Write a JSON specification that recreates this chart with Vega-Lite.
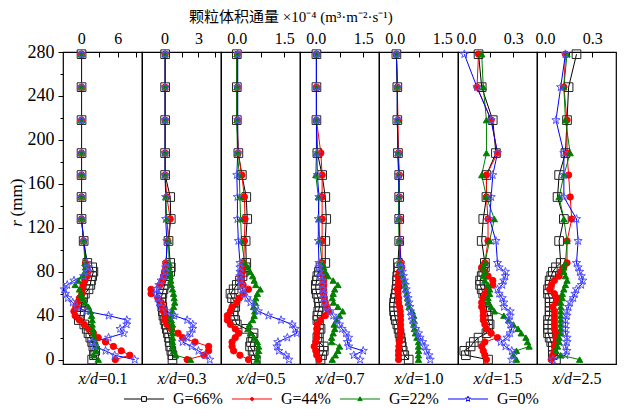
{
"$schema": "https://vega.github.io/schema/vega-lite/v6.json",
"padding": {"left": 6, "right": 4, "top": 10, "bottom": 0},
"title": {"text": "颗粒体积通量 ×10⁻⁴ (m³·m⁻²·s⁻¹)", "font": "Liberation Serif, Noto Sans CJK SC", "fontSize": 15, "fontWeight": "normal", "color": "black", "anchor": "start", "frame": "group", "dx": 126},
"data": {"values": [
{"p":1,"r":278,"a":0.05,"b":0.05,"c":0.05,"d":0.05},
{"p":1,"r":248,"a":0.05,"b":0.05,"c":0.05,"d":0.05},
{"p":1,"r":218,"a":0.05,"b":0.05,"c":0.05,"d":0.05},
{"p":1,"r":188,"a":0.05,"b":0.05,"c":0.05,"d":0.05},
{"p":1,"r":168,"a":0.05,"b":0.05,"c":0.05,"d":0.05},
{"p":1,"r":148,"a":0.05,"b":0.05,"c":0.05,"d":0.05},
{"p":1,"r":128,"a":0.05,"b":0.05,"c":0.05,"d":0.05},
{"p":1,"r":108,"a":0.4,"b":0.4,"c":0.4,"d":0.4},
{"p":1,"r":88,"a":1.0,"b":0.7,"c":0.6,"d":0.9},
{"p":1,"r":84,"a":1.8,"b":0.9,"c":0.7,"d":1.2},
{"p":1,"r":80,"a":2.0,"b":1.1,"c":0.6,"d":1.1},
{"p":1,"r":76,"a":1.8,"b":1.0,"c":0.2,"d":0.4},
{"p":1,"r":72,"a":1.6,"b":0.6,"c":-0.5,"d":-1.2},
{"p":1,"r":68,"a":1.5,"b":0.3,"c":-1.0,"d":-2.3},
{"p":1,"r":64,"a":1.2,"b":0.2,"c":-0.3,"d":-2.8},
{"p":1,"r":60,"a":0.6,"b":0.1,"c":0.0,"d":-2.6},
{"p":1,"r":56,"a":0.3,"b":-0.3,"c":0.2,"d":-2.2},
{"p":1,"r":52,"a":0.1,"b":-0.6,"c":0.6,"d":-1.4},
{"p":1,"r":48,"a":0.0,"b":-0.9,"c":1.2,"d":-0.7},
{"p":1,"r":44,"a":-0.1,"b":-1.2,"c":1.5,"d":0.8},
{"p":1,"r":40,"a":-0.2,"b":-1.0,"c":1.7,"d":4.5},
{"p":1,"r":36,"a":-0.4,"b":-0.3,"c":1.8,"d":7.5},
{"p":1,"r":32,"a":0.5,"b":0.5,"c":1.8,"d":7.5},
{"p":1,"r":28,"a":0.9,"b":1.2,"c":1.9,"d":6.4},
{"p":1,"r":24,"a":1.2,"b":2.0,"c":2.0,"d":7.0},
{"p":1,"r":20,"a":1.5,"b":2.8,"c":2.1,"d":4.5},
{"p":1,"r":16,"a":1.8,"b":4.0,"c":2.3,"d":1.8},
{"p":1,"r":12,"a":2.0,"b":5.3,"c":2.6,"d":2.2},
{"p":1,"r":8,"a":2.3,"b":6.6,"c":2.4,"d":4.0},
{"p":1,"r":4,"a":2.1,"b":8.0,"c":2.0,"d":5.5},
{"p":1,"r":0,"a":1.8,"b":5.6,"c":2.8,"d":8.8},
{"p":2,"r":278,"a":0.05,"b":0.05,"c":0.05,"d":0.05},
{"p":2,"r":248,"a":0.05,"b":0.05,"c":0.05,"d":0.05},
{"p":2,"r":218,"a":0.05,"b":0.05,"c":0.05,"d":0.05},
{"p":2,"r":188,"a":0.05,"b":0.05,"c":0.05,"d":0.05},
{"p":2,"r":168,"a":0.05,"b":0.05,"c":0.05,"d":0.05},
{"p":2,"r":148,"a":0.5,"b":0.2,"c":0.1,"d":0.1},
{"p":2,"r":128,"a":0.55,"b":0.5,"c":0.2,"d":0.1},
{"p":2,"r":108,"a":0.35,"b":0.3,"c":0.35,"d":0.2},
{"p":2,"r":88,"a":0.5,"b":0.1,"c":0.4,"d":0.15},
{"p":2,"r":84,"a":0.55,"b":0.1,"c":0.4,"d":0.1},
{"p":2,"r":80,"a":0.5,"b":0.0,"c":0.45,"d":0.1},
{"p":2,"r":76,"a":0.3,"b":-0.1,"c":0.5,"d":0.0},
{"p":2,"r":72,"a":0.1,"b":-0.2,"c":0.55,"d":-0.3},
{"p":2,"r":68,"a":0.0,"b":-0.4,"c":0.6,"d":-0.5},
{"p":2,"r":64,"a":-0.1,"b":-1.2,"c":0.7,"d":-0.7},
{"p":2,"r":60,"a":-0.2,"b":-1.2,"c":0.8,"d":-0.7},
{"p":2,"r":56,"a":-0.3,"b":-0.6,"c":0.85,"d":-0.6},
{"p":2,"r":52,"a":-0.25,"b":-0.3,"c":0.9,"d":-0.5},
{"p":2,"r":48,"a":-0.2,"b":-0.2,"c":0.8,"d":-0.3},
{"p":2,"r":44,"a":-0.15,"b":-0.1,"c":0.7,"d":0.2},
{"p":2,"r":40,"a":-0.1,"b":0.0,"c":0.6,"d":0.85},
{"p":2,"r":36,"a":0.0,"b":0.0,"c":0.6,"d":2.0},
{"p":2,"r":32,"a":0.1,"b":0.2,"c":0.7,"d":2.5},
{"p":2,"r":28,"a":0.2,"b":0.6,"c":0.7,"d":2.5},
{"p":2,"r":24,"a":0.3,"b":1.2,"c":0.7,"d":2.3},
{"p":2,"r":20,"a":0.4,"b":1.6,"c":0.7,"d":2.0},
{"p":2,"r":16,"a":0.45,"b":2.7,"c":0.7,"d":1.6},
{"p":2,"r":12,"a":0.5,"b":3.9,"c":0.7,"d":2.4},
{"p":2,"r":8,"a":0.6,"b":3.9,"c":0.8,"d":3.0},
{"p":2,"r":4,"a":0.7,"b":3.5,"c":1.0,"d":3.6},
{"p":2,"r":0,"a":0.7,"b":2.0,"c":2.3,"d":4.0},
{"p":3,"r":278,"a":0.0,"b":0.02,"c":0.0,"d":0.03},
{"p":3,"r":248,"a":0.0,"b":0.02,"c":0.0,"d":0.03},
{"p":3,"r":218,"a":0.0,"b":0.02,"c":0.0,"d":0.03},
{"p":3,"r":188,"a":0.05,"b":0.04,"c":0.02,"d":0.03},
{"p":3,"r":168,"a":0.16,"b":0.16,"c":0.08,"d":0.0},
{"p":3,"r":148,"a":0.3,"b":0.24,"c":0.1,"d":0.02},
{"p":3,"r":128,"a":0.33,"b":0.26,"c":0.12,"d":0.02},
{"p":3,"r":108,"a":0.28,"b":0.24,"c":0.15,"d":0.05},
{"p":3,"r":88,"a":0.3,"b":0.22,"c":0.25,"d":0.1},
{"p":3,"r":84,"a":0.28,"b":0.2,"c":0.35,"d":0.1},
{"p":3,"r":80,"a":0.22,"b":0.18,"c":0.42,"d":0.1},
{"p":3,"r":76,"a":0.18,"b":0.15,"c":0.5,"d":0.1},
{"p":3,"r":72,"a":0.1,"b":0.12,"c":0.55,"d":0.12},
{"p":3,"r":68,"a":0.0,"b":0.2,"c":0.6,"d":0.15},
{"p":3,"r":64,"a":-0.1,"b":0.37,"c":0.74,"d":0.18},
{"p":3,"r":60,"a":-0.2,"b":0.2,"c":0.65,"d":0.22},
{"p":3,"r":56,"a":-0.15,"b":0.08,"c":0.6,"d":0.33},
{"p":3,"r":52,"a":-0.05,"b":0.0,"c":0.58,"d":0.43},
{"p":3,"r":48,"a":-0.05,"b":-0.15,"c":0.53,"d":0.58},
{"p":3,"r":44,"a":-0.1,"b":-0.2,"c":0.57,"d":0.68},
{"p":3,"r":40,"a":-0.1,"b":-0.3,"c":0.55,"d":1.0},
{"p":3,"r":36,"a":-0.05,"b":-0.3,"c":0.5,"d":1.4},
{"p":3,"r":32,"a":0.0,"b":-0.2,"c":0.4,"d":1.75},
{"p":3,"r":28,"a":0.3,"b":-0.05,"c":0.35,"d":1.85},
{"p":3,"r":24,"a":0.53,"b":0.06,"c":0.43,"d":1.9},
{"p":3,"r":20,"a":0.5,"b":-0.05,"c":0.55,"d":1.6},
{"p":3,"r":16,"a":0.45,"b":-0.15,"c":0.65,"d":1.3},
{"p":3,"r":12,"a":0.42,"b":-0.15,"c":0.69,"d":1.27},
{"p":3,"r":8,"a":0.5,"b":-0.1,"c":0.69,"d":1.33},
{"p":3,"r":4,"a":0.55,"b":0.1,"c":0.66,"d":1.55},
{"p":3,"r":0,"a":0.6,"b":0.37,"c":0.64,"d":1.65},
{"p":4,"r":278,"a":0.02,"b":0.02,"c":0.02,"d":0.02},
{"p":4,"r":248,"a":0.02,"b":0.02,"c":0.02,"d":0.02},
{"p":4,"r":218,"a":0.02,"b":0.02,"c":0.02,"d":0.02},
{"p":4,"r":188,"a":0.05,"b":0.16,"c":0.02,"d":0.03},
{"p":4,"r":168,"a":0.2,"b":0.2,"c":0.0,"d":0.05},
{"p":4,"r":148,"a":0.3,"b":0.2,"c":0.08,"d":0.1},
{"p":4,"r":128,"a":0.33,"b":0.2,"c":0.1,"d":0.08},
{"p":4,"r":108,"a":0.3,"b":0.2,"c":0.12,"d":0.08},
{"p":4,"r":88,"a":0.3,"b":0.2,"c":0.2,"d":0.1},
{"p":4,"r":84,"a":0.15,"b":0.22,"c":0.25,"d":0.1},
{"p":4,"r":80,"a":0.1,"b":0.22,"c":0.3,"d":0.12},
{"p":4,"r":76,"a":0.05,"b":0.24,"c":0.38,"d":0.15},
{"p":4,"r":72,"a":0.03,"b":0.25,"c":0.55,"d":0.2},
{"p":4,"r":68,"a":0.0,"b":0.25,"c":0.7,"d":0.2},
{"p":4,"r":64,"a":0.0,"b":0.25,"c":0.6,"d":0.22},
{"p":4,"r":60,"a":0.03,"b":0.25,"c":0.55,"d":0.24},
{"p":4,"r":56,"a":0.08,"b":0.27,"c":0.52,"d":0.25},
{"p":4,"r":52,"a":0.1,"b":0.3,"c":0.56,"d":0.25},
{"p":4,"r":48,"a":0.12,"b":0.35,"c":0.7,"d":0.35},
{"p":4,"r":44,"a":0.08,"b":0.4,"c":0.85,"d":0.45},
{"p":4,"r":40,"a":0.05,"b":0.3,"c":0.75,"d":0.55},
{"p":4,"r":36,"a":0.05,"b":0.15,"c":0.66,"d":0.67},
{"p":4,"r":32,"a":0.1,"b":0.05,"c":0.58,"d":0.75},
{"p":4,"r":28,"a":0.15,"b":0.03,"c":0.6,"d":0.83},
{"p":4,"r":24,"a":0.1,"b":0.03,"c":0.55,"d":0.95},
{"p":4,"r":20,"a":0.05,"b":0.03,"c":0.5,"d":1.04},
{"p":4,"r":16,"a":0.1,"b":0.0,"c":0.5,"d":1.0},
{"p":4,"r":12,"a":0.25,"b":-0.05,"c":0.75,"d":1.04},
{"p":4,"r":8,"a":0.25,"b":0.0,"c":0.7,"d":1.5},
{"p":4,"r":4,"a":0.2,"b":0.03,"c":0.62,"d":1.2},
{"p":4,"r":0,"a":0.15,"b":0.1,"c":0.52,"d":1.4},
{"p":5,"r":278,"a":0.05,"b":0.05,"c":0.05,"d":0.05},
{"p":5,"r":248,"a":0.08,"b":0.08,"c":0.08,"d":0.08},
{"p":5,"r":218,"a":0.08,"b":0.1,"c":0.08,"d":0.08},
{"p":5,"r":188,"a":0.1,"b":0.12,"c":0.1,"d":0.1},
{"p":5,"r":168,"a":0.14,"b":0.14,"c":0.12,"d":0.12},
{"p":5,"r":148,"a":0.14,"b":0.14,"c":0.12,"d":0.14},
{"p":5,"r":128,"a":0.14,"b":0.16,"c":0.12,"d":0.14},
{"p":5,"r":108,"a":0.14,"b":0.16,"c":0.14,"d":0.16},
{"p":5,"r":88,"a":0.1,"b":0.2,"c":0.15,"d":0.18},
{"p":5,"r":84,"a":0.12,"b":0.22,"c":0.2,"d":0.2},
{"p":5,"r":80,"a":0.1,"b":0.15,"c":0.22,"d":0.24},
{"p":5,"r":76,"a":0.08,"b":0.1,"c":0.25,"d":0.27},
{"p":5,"r":72,"a":0.07,"b":0.12,"c":0.3,"d":0.3},
{"p":5,"r":68,"a":0.07,"b":0.1,"c":0.32,"d":0.33},
{"p":5,"r":64,"a":0.05,"b":0.08,"c":0.34,"d":0.36},
{"p":5,"r":60,"a":0.03,"b":0.1,"c":0.38,"d":0.38},
{"p":5,"r":56,"a":0.0,"b":0.12,"c":0.4,"d":0.42},
{"p":5,"r":52,"a":-0.02,"b":0.12,"c":0.42,"d":0.45},
{"p":5,"r":48,"a":-0.03,"b":0.15,"c":0.45,"d":0.48},
{"p":5,"r":44,"a":-0.02,"b":0.17,"c":0.55,"d":0.5},
{"p":5,"r":40,"a":0.0,"b":0.18,"c":0.6,"d":0.52},
{"p":5,"r":36,"a":0.03,"b":0.18,"c":0.6,"d":0.55},
{"p":5,"r":32,"a":0.08,"b":0.18,"c":0.6,"d":0.6},
{"p":5,"r":28,"a":0.12,"b":0.18,"c":0.62,"d":0.66},
{"p":5,"r":24,"a":0.15,"b":0.17,"c":0.65,"d":0.75},
{"p":5,"r":20,"a":0.18,"b":0.17,"c":0.7,"d":0.8},
{"p":5,"r":16,"a":0.2,"b":0.15,"c":0.75,"d":0.88},
{"p":5,"r":12,"a":0.22,"b":0.13,"c":0.75,"d":0.95},
{"p":5,"r":8,"a":0.25,"b":0.12,"c":0.75,"d":1.0},
{"p":5,"r":4,"a":0.3,"b":0.12,"c":0.75,"d":1.08},
{"p":5,"r":0,"a":0.44,"b":0.12,"c":0.75,"d":1.12},
{"p":6,"r":278,"a":0.08,"b":0.08,"c":0.1,"d":-0.01},
{"p":6,"r":248,"a":0.1,"b":0.07,"c":0.11,"d":0.07},
{"p":6,"r":218,"a":0.17,"b":0.16,"c":0.13,"d":0.16},
{"p":6,"r":188,"a":0.19,"b":0.2,"c":0.13,"d":0.2},
{"p":6,"r":168,"a":0.13,"b":0.13,"c":0.1,"d":0.17},
{"p":6,"r":148,"a":0.13,"b":0.13,"c":0.13,"d":0.16},
{"p":6,"r":128,"a":0.11,"b":0.14,"c":0.18,"d":0.15},
{"p":6,"r":108,"a":0.1,"b":0.14,"c":0.15,"d":0.19},
{"p":6,"r":88,"a":0.12,"b":0.12,"c":0.12,"d":0.2},
{"p":6,"r":84,"a":0.12,"b":0.1,"c":0.11,"d":0.21},
{"p":6,"r":80,"a":0.11,"b":0.12,"c":0.12,"d":0.25},
{"p":6,"r":76,"a":0.1,"b":0.14,"c":0.11,"d":0.25},
{"p":6,"r":72,"a":0.09,"b":0.17,"c":0.12,"d":0.24},
{"p":6,"r":68,"a":0.09,"b":0.17,"c":0.14,"d":0.23},
{"p":6,"r":64,"a":0.1,"b":0.14,"c":0.15,"d":0.2},
{"p":6,"r":60,"a":0.11,"b":0.12,"c":0.15,"d":0.21},
{"p":6,"r":56,"a":0.12,"b":0.11,"c":0.14,"d":0.23},
{"p":6,"r":52,"a":0.12,"b":0.1,"c":0.14,"d":0.24},
{"p":6,"r":48,"a":0.13,"b":0.1,"c":0.16,"d":0.24},
{"p":6,"r":44,"a":0.13,"b":0.11,"c":0.18,"d":0.28},
{"p":6,"r":40,"a":0.14,"b":0.11,"c":0.24,"d":0.28},
{"p":6,"r":36,"a":0.14,"b":0.11,"c":0.27,"d":0.27},
{"p":6,"r":32,"a":0.15,"b":0.12,"c":0.3,"d":0.28},
{"p":6,"r":28,"a":0.14,"b":0.13,"c":0.33,"d":0.29},
{"p":6,"r":24,"a":0.13,"b":0.16,"c":0.35,"d":0.28},
{"p":6,"r":20,"a":0.08,"b":0.2,"c":0.38,"d":0.26},
{"p":6,"r":16,"a":0.05,"b":0.12,"c":0.39,"d":0.22},
{"p":6,"r":12,"a":0.03,"b":0.1,"c":0.4,"d":0.25},
{"p":6,"r":8,"a":-0.01,"b":0.11,"c":0.32,"d":0.29},
{"p":6,"r":4,"a":0.0,"b":0.12,"c":0.3,"d":0.3},
{"p":6,"r":0,"a":0.14,"b":0.13,"c":0.32,"d":0.29},
{"p":7,"r":278,"a":0.2,"b":0.13,"c":0.14,"d":0.13},
{"p":7,"r":248,"a":0.15,"b":0.12,"c":0.12,"d":0.1},
{"p":7,"r":218,"a":0.14,"b":0.14,"c":0.13,"d":0.07},
{"p":7,"r":188,"a":0.13,"b":0.14,"c":0.16,"d":0.12},
{"p":7,"r":168,"a":0.09,"b":0.15,"c":0.12,"d":0.12},
{"p":7,"r":148,"a":0.08,"b":0.16,"c":0.09,"d":0.12},
{"p":7,"r":128,"a":0.12,"b":0.17,"c":0.12,"d":0.2},
{"p":7,"r":108,"a":0.09,"b":0.14,"c":0.14,"d":0.21},
{"p":7,"r":88,"a":0.1,"b":0.14,"c":0.13,"d":0.2},
{"p":7,"r":84,"a":0.07,"b":0.12,"c":0.12,"d":0.21},
{"p":7,"r":80,"a":0.05,"b":0.1,"c":0.12,"d":0.22},
{"p":7,"r":76,"a":0.04,"b":0.09,"c":0.13,"d":0.23},
{"p":7,"r":72,"a":0.03,"b":0.06,"c":0.14,"d":0.24},
{"p":7,"r":68,"a":0.03,"b":0.04,"c":0.13,"d":0.23},
{"p":7,"r":64,"a":0.02,"b":0.03,"c":0.12,"d":0.2},
{"p":7,"r":60,"a":0.02,"b":0.06,"c":0.11,"d":0.19},
{"p":7,"r":56,"a":0.03,"b":0.08,"c":0.11,"d":0.18},
{"p":7,"r":52,"a":0.03,"b":0.07,"c":0.1,"d":0.16},
{"p":7,"r":48,"a":0.03,"b":0.05,"c":0.1,"d":0.15},
{"p":7,"r":44,"a":0.03,"b":0.06,"c":0.1,"d":0.14},
{"p":7,"r":40,"a":0.03,"b":0.06,"c":0.1,"d":0.14},
{"p":7,"r":36,"a":0.02,"b":0.06,"c":0.1,"d":0.13},
{"p":7,"r":32,"a":0.02,"b":0.06,"c":0.1,"d":0.13},
{"p":7,"r":28,"a":0.02,"b":0.06,"c":0.1,"d":0.13},
{"p":7,"r":24,"a":0.02,"b":0.07,"c":0.1,"d":0.13},
{"p":7,"r":20,"a":0.03,"b":0.07,"c":0.09,"d":0.14},
{"p":7,"r":16,"a":0.04,"b":0.07,"c":0.09,"d":0.14},
{"p":7,"r":12,"a":0.05,"b":0.06,"c":0.08,"d":0.13},
{"p":7,"r":8,"a":0.05,"b":0.06,"c":0.07,"d":0.14},
{"p":7,"r":4,"a":0.05,"b":0.05,"c":0.1,"d":0.13},
{"p":7,"r":0,"a":0.07,"b":0.04,"c":0.22,"d":0.05}
]},
"spacing": 0,
"bounds": "flush",
"hconcat": [
{"width": 79, "height": 312,
 "transform": [{"filter": "datum.p==1"}, {"fold": ["a","b","c","d"], "as": ["k","v"]}],
 "encoding": {"x": {"field": "v", "type": "quantitative", "axis": null}, "y": {"field": "r", "type": "quantitative", "axis": null}},
 "layer": [
  {"mark": {"type": "line", "strokeWidth": 1},
   "encoding": {
    "x": {"field": "v", "type": "quantitative", "scale": {"domain": [-3, 10], "nice": false, "zero": false}, "axis": {"orient": "top", "values": [0,3,6,9], "labelExpr": "datum.value==0||datum.value==6?datum.label:''", "title": null, "tickSize": -5, "labelPadding": 11, "domain": false}},
    "y": {"field": "r", "type": "quantitative", "scale": {"domain": [-4, 280], "nice": false, "zero": false}, "axis": {"orient": "left", "values": [0,40,80,120,160,200,240,280], "labelFontSize": 18, "tickSize": 5, "labelPadding": 4, "domain": false, "title": "(mm)", "titleFontSize": 17, "titleX": -42, "titleY": 145, "titleAlign": "center", "titleBaseline": "alphabetic"}},
    "color": {"field": "k", "type": "nominal", "scale": {"range": ["#000000","#ff0000","#008000","#0000ff"]}, "legend": null},
    "order": {"field": "r", "type": "quantitative"}}},
  {"transform": [{"filter": "datum.k=='a'"}], "mark": {"type": "point", "shape": "square", "size": 75, "filled": false, "color": "#222222", "strokeWidth": 1, "opacity": 1},
   "encoding": {"x": {"field": "v", "type": "quantitative", "axis": {"orient": "bottom", "title": "x/d", "titleFontStyle": "italic", "labels": false, "ticks": false, "domain": false, "titleX": 15, "titleY": 19, "titleAlign": "left", "titleBaseline": "alphabetic"}}}},
  {"transform": [{"filter": "datum.k=='b'"}], "mark": {"type": "point", "shape": "circle", "size": 40, "filled": true, "color": "#ff0000", "stroke": "#ff0000", "strokeWidth": 1, "opacity": 1},
   "encoding": {"x": {"field": "v", "type": "quantitative", "axis": {"orient": "bottom", "title": "=0.1", "labels": false, "ticks": false, "domain": false, "titleX": 35, "titleY": 19, "titleAlign": "left", "titleBaseline": "alphabetic"}}}},
  {"transform": [{"filter": "datum.k=='c'"}], "mark": {"type": "point", "shape": "triangle-up", "size": 40, "filled": true, "color": "#008000", "stroke": "#008000", "strokeWidth": 1, "opacity": 1},
   "encoding": {"y": {"field": "r", "type": "quantitative", "axis": {"orient": "left", "values": [20,60,100,140,180,220,260], "labels": false, "tickSize": 3, "domain": false, "title": "r", "titleFontStyle": "italic", "titleFontSize": 17, "titleX": -42, "titleY": 171, "titleAlign": "center", "titleBaseline": "alphabetic"}}}},
  {"transform": [{"filter": "datum.k=='d'"}], "mark": {"type": "point", "shape": "M0,-1L0.235,-0.324L0.951,-0.309L0.38,0.124L0.588,0.809L0,0.4L-0.588,0.809L-0.38,0.124L-0.951,-0.309L-0.235,-0.324Z", "size": 75, "filled": false, "color": "#5555ff", "strokeWidth": 1, "opacity": 1}},
  {"mark": {"type": "point", "opacity": 0, "size": 64},
   "encoding": {
    "shape": {"field": "k", "type": "nominal", "scale": {"domain": ["a","b","c","d"], "range": ["M-5,0H-0.6M0.6,0H5M-0.6,-0.6H0.6V0.6H-0.6Z", "M-5,0H5M-0.4,0A0.4,0.4 0 1,0 0.4,0A0.4,0.4 0 1,0 -0.4,0Z", "M-5,0H5M0,-0.55L0.55,0.4H-0.55Z", "M-5,0H-0.7M0.7,0H5M0,-0.7L0.16,-0.23L0.67,-0.22L0.27,0.09L0.41,0.57L0,0.28L-0.41,0.57L-0.27,0.09L-0.67,-0.22L-0.16,-0.23Z"]},
      "legend": {"orient": "none", "legendX": 57, "legendY": 339, "direction": "horizontal", "columns": 4, "title": null, "labelFont": "Liberation Serif", "labelFontSize": 16, "labelColor": "black", "symbolSize": 64, "symbolOffset": 16, "labelOffset": 21, "columnPadding": 5, "symbolStrokeWidth": 1, "symbolOpacity": 1,
        "labelExpr": "datum.label=='a'?'G=66%':datum.label=='b'?'G=44%':datum.label=='c'?'G=22%':'G=0%'"}},
    "stroke": {"field": "k", "type": "nominal", "scale": {"domain": ["a","b","c","d"], "range": ["#000000","#ff0000","#008000","#0000ff"]}},
    "fill": {"field": "k", "type": "nominal", "scale": {"domain": ["a","b","c","d"], "range": ["transparent","#ff0000","#008000","transparent"]}}}}
 ],
 "resolve": {"axis": {"x": "independent", "y": "independent"}}},
{"width": 79, "height": 312,
 "transform": [{"filter": "datum.p==2"}, {"fold": ["a","b","c","d"], "as": ["k","v"]}],
 "encoding": {"x": {"field": "v", "type": "quantitative", "axis": null}, "y": {"field": "r", "type": "quantitative", "axis": null}},
 "layer": [
  {"mark": {"type": "line", "strokeWidth": 1},
   "encoding": {
    "x": {"field": "v", "type": "quantitative", "scale": {"domain": [-2, 5], "nice": false, "zero": false}, "axis": {"orient": "top", "values": [0,1.5,3,4.5], "labelExpr": "datum.value==0||datum.value==3?datum.label:''", "title": null, "tickSize": -5, "labelPadding": 11, "domain": false}},
    "y": {"field": "r", "type": "quantitative", "scale": {"domain": [-4, 280], "nice": false, "zero": false}, "axis": null},
    "color": {"field": "k", "type": "nominal", "scale": {"range": ["#000000","#ff0000","#008000","#0000ff"]}, "legend": null},
    "order": {"field": "r", "type": "quantitative"}}},
  {"transform": [{"filter": "datum.k=='a'"}], "mark": {"type": "point", "shape": "square", "size": 75, "filled": false, "color": "#222222", "strokeWidth": 1, "opacity": 1},
   "encoding": {"x": {"field": "v", "type": "quantitative", "axis": {"orient": "bottom", "title": "x/d", "titleFontStyle": "italic", "labels": false, "ticks": false, "domain": false, "titleX": 15, "titleY": 19, "titleAlign": "left", "titleBaseline": "alphabetic"}}}},
  {"transform": [{"filter": "datum.k=='b'"}], "mark": {"type": "point", "shape": "circle", "size": 40, "filled": true, "color": "#ff0000", "stroke": "#ff0000", "strokeWidth": 1, "opacity": 1},
   "encoding": {"x": {"field": "v", "type": "quantitative", "axis": {"orient": "bottom", "title": "=0.3", "labels": false, "ticks": false, "domain": false, "titleX": 35, "titleY": 19, "titleAlign": "left", "titleBaseline": "alphabetic"}}}},
  {"transform": [{"filter": "datum.k=='c'"}], "mark": {"type": "point", "shape": "triangle-up", "size": 40, "filled": true, "color": "#008000", "stroke": "#008000", "strokeWidth": 1, "opacity": 1}},
  {"transform": [{"filter": "datum.k=='d'"}], "mark": {"type": "point", "shape": "M0,-1L0.235,-0.324L0.951,-0.309L0.38,0.124L0.588,0.809L0,0.4L-0.588,0.809L-0.38,0.124L-0.951,-0.309L-0.235,-0.324Z", "size": 75, "filled": false, "color": "#5555ff", "strokeWidth": 1, "opacity": 1}}
 ],
 "resolve": {"axis": {"x": "independent"}}},
{"width": 79, "height": 312,
 "transform": [{"filter": "datum.p==3"}, {"fold": ["a","b","c","d"], "as": ["k","v"]}],
 "encoding": {"x": {"field": "v", "type": "quantitative", "axis": null}, "y": {"field": "r", "type": "quantitative", "axis": null}},
 "layer": [
  {"mark": {"type": "line", "strokeWidth": 1},
   "encoding": {
    "x": {"field": "v", "type": "quantitative", "scale": {"domain": [-0.5, 2], "nice": false, "zero": false}, "axis": {"orient": "top", "values": [0,0.75,1.5], "format": ".1f", "labelExpr": "datum.value==0||datum.value==1.5?datum.label:''", "title": null, "tickSize": -5, "labelPadding": 11, "domain": false}},
    "y": {"field": "r", "type": "quantitative", "scale": {"domain": [-4, 280], "nice": false, "zero": false}, "axis": null},
    "color": {"field": "k", "type": "nominal", "scale": {"range": ["#000000","#ff0000","#008000","#0000ff"]}, "legend": null},
    "order": {"field": "r", "type": "quantitative"}}},
  {"transform": [{"filter": "datum.k=='a'"}], "mark": {"type": "point", "shape": "square", "size": 75, "filled": false, "color": "#222222", "strokeWidth": 1, "opacity": 1},
   "encoding": {"x": {"field": "v", "type": "quantitative", "axis": {"orient": "bottom", "title": "x/d", "titleFontStyle": "italic", "labels": false, "ticks": false, "domain": false, "titleX": 15, "titleY": 19, "titleAlign": "left", "titleBaseline": "alphabetic"}}}},
  {"transform": [{"filter": "datum.k=='b'"}], "mark": {"type": "point", "shape": "circle", "size": 40, "filled": true, "color": "#ff0000", "stroke": "#ff0000", "strokeWidth": 1, "opacity": 1},
   "encoding": {"x": {"field": "v", "type": "quantitative", "axis": {"orient": "bottom", "title": "=0.5", "labels": false, "ticks": false, "domain": false, "titleX": 35, "titleY": 19, "titleAlign": "left", "titleBaseline": "alphabetic"}}}},
  {"transform": [{"filter": "datum.k=='c'"}], "mark": {"type": "point", "shape": "triangle-up", "size": 40, "filled": true, "color": "#008000", "stroke": "#008000", "strokeWidth": 1, "opacity": 1}},
  {"transform": [{"filter": "datum.k=='d'"}], "mark": {"type": "point", "shape": "M0,-1L0.235,-0.324L0.951,-0.309L0.38,0.124L0.588,0.809L0,0.4L-0.588,0.809L-0.38,0.124L-0.951,-0.309L-0.235,-0.324Z", "size": 75, "filled": false, "color": "#5555ff", "strokeWidth": 1, "opacity": 1}}
 ],
 "resolve": {"axis": {"x": "independent"}}},
{"width": 79, "height": 312,
 "transform": [{"filter": "datum.p==4"}, {"fold": ["a","b","c","d"], "as": ["k","v"]}],
 "encoding": {"x": {"field": "v", "type": "quantitative", "axis": null}, "y": {"field": "r", "type": "quantitative", "axis": null}},
 "layer": [
  {"mark": {"type": "line", "strokeWidth": 1},
   "encoding": {
    "x": {"field": "v", "type": "quantitative", "scale": {"domain": [-0.5, 2], "nice": false, "zero": false}, "axis": {"orient": "top", "values": [0,0.75,1.5], "format": ".1f", "labelExpr": "datum.value==0||datum.value==1.5?datum.label:''", "title": null, "tickSize": -5, "labelPadding": 11, "domain": false}},
    "y": {"field": "r", "type": "quantitative", "scale": {"domain": [-4, 280], "nice": false, "zero": false}, "axis": null},
    "color": {"field": "k", "type": "nominal", "scale": {"range": ["#000000","#ff0000","#008000","#0000ff"]}, "legend": null},
    "order": {"field": "r", "type": "quantitative"}}},
  {"transform": [{"filter": "datum.k=='a'"}], "mark": {"type": "point", "shape": "square", "size": 75, "filled": false, "color": "#222222", "strokeWidth": 1, "opacity": 1},
   "encoding": {"x": {"field": "v", "type": "quantitative", "axis": {"orient": "bottom", "title": "x/d", "titleFontStyle": "italic", "labels": false, "ticks": false, "domain": false, "titleX": 15, "titleY": 19, "titleAlign": "left", "titleBaseline": "alphabetic"}}}},
  {"transform": [{"filter": "datum.k=='b'"}], "mark": {"type": "point", "shape": "circle", "size": 40, "filled": true, "color": "#ff0000", "stroke": "#ff0000", "strokeWidth": 1, "opacity": 1},
   "encoding": {"x": {"field": "v", "type": "quantitative", "axis": {"orient": "bottom", "title": "=0.7", "labels": false, "ticks": false, "domain": false, "titleX": 35, "titleY": 19, "titleAlign": "left", "titleBaseline": "alphabetic"}}}},
  {"transform": [{"filter": "datum.k=='c'"}], "mark": {"type": "point", "shape": "triangle-up", "size": 40, "filled": true, "color": "#008000", "stroke": "#008000", "strokeWidth": 1, "opacity": 1}},
  {"transform": [{"filter": "datum.k=='d'"}], "mark": {"type": "point", "shape": "M0,-1L0.235,-0.324L0.951,-0.309L0.38,0.124L0.588,0.809L0,0.4L-0.588,0.809L-0.38,0.124L-0.951,-0.309L-0.235,-0.324Z", "size": 75, "filled": false, "color": "#5555ff", "strokeWidth": 1, "opacity": 1}}
 ],
 "resolve": {"axis": {"x": "independent"}}},
{"width": 79, "height": 312,
 "transform": [{"filter": "datum.p==5"}, {"fold": ["a","b","c","d"], "as": ["k","v"]}],
 "encoding": {"x": {"field": "v", "type": "quantitative", "axis": null}, "y": {"field": "r", "type": "quantitative", "axis": null}},
 "layer": [
  {"mark": {"type": "line", "strokeWidth": 1},
   "encoding": {
    "x": {"field": "v", "type": "quantitative", "scale": {"domain": [-0.5, 2], "nice": false, "zero": false}, "axis": {"orient": "top", "values": [0,0.75,1.5], "format": ".1f", "labelExpr": "datum.value==0||datum.value==1.5?datum.label:''", "title": null, "tickSize": -5, "labelPadding": 11, "domain": false}},
    "y": {"field": "r", "type": "quantitative", "scale": {"domain": [-4, 280], "nice": false, "zero": false}, "axis": null},
    "color": {"field": "k", "type": "nominal", "scale": {"range": ["#000000","#ff0000","#008000","#0000ff"]}, "legend": null},
    "order": {"field": "r", "type": "quantitative"}}},
  {"transform": [{"filter": "datum.k=='a'"}], "mark": {"type": "point", "shape": "square", "size": 75, "filled": false, "color": "#222222", "strokeWidth": 1, "opacity": 1},
   "encoding": {"x": {"field": "v", "type": "quantitative", "axis": {"orient": "bottom", "title": "x/d", "titleFontStyle": "italic", "labels": false, "ticks": false, "domain": false, "titleX": 15, "titleY": 19, "titleAlign": "left", "titleBaseline": "alphabetic"}}}},
  {"transform": [{"filter": "datum.k=='b'"}], "mark": {"type": "point", "shape": "circle", "size": 40, "filled": true, "color": "#ff0000", "stroke": "#ff0000", "strokeWidth": 1, "opacity": 1},
   "encoding": {"x": {"field": "v", "type": "quantitative", "axis": {"orient": "bottom", "title": "=1.0", "labels": false, "ticks": false, "domain": false, "titleX": 35, "titleY": 19, "titleAlign": "left", "titleBaseline": "alphabetic"}}}},
  {"transform": [{"filter": "datum.k=='c'"}], "mark": {"type": "point", "shape": "triangle-up", "size": 40, "filled": true, "color": "#008000", "stroke": "#008000", "strokeWidth": 1, "opacity": 1}},
  {"transform": [{"filter": "datum.k=='d'"}], "mark": {"type": "point", "shape": "M0,-1L0.235,-0.324L0.951,-0.309L0.38,0.124L0.588,0.809L0,0.4L-0.588,0.809L-0.38,0.124L-0.951,-0.309L-0.235,-0.324Z", "size": 75, "filled": false, "color": "#5555ff", "strokeWidth": 1, "opacity": 1}}
 ],
 "resolve": {"axis": {"x": "independent"}}},
{"width": 79, "height": 312,
 "transform": [{"filter": "datum.p==6"}, {"fold": ["a","b","c","d"], "as": ["k","v"]}],
 "encoding": {"x": {"field": "v", "type": "quantitative", "axis": null}, "y": {"field": "r", "type": "quantitative", "axis": null}},
 "layer": [
  {"mark": {"type": "line", "strokeWidth": 1},
   "encoding": {
    "x": {"field": "v", "type": "quantitative", "scale": {"domain": [-0.05, 0.45], "nice": false, "zero": false}, "axis": {"orient": "top", "values": [0,0.15,0.3], "format": ".1f", "labelExpr": "datum.value==0||datum.value==0.3?datum.label:''", "title": null, "tickSize": -5, "labelPadding": 11, "domain": false}},
    "y": {"field": "r", "type": "quantitative", "scale": {"domain": [-4, 280], "nice": false, "zero": false}, "axis": null},
    "color": {"field": "k", "type": "nominal", "scale": {"range": ["#000000","#ff0000","#008000","#0000ff"]}, "legend": null},
    "order": {"field": "r", "type": "quantitative"}}},
  {"transform": [{"filter": "datum.k=='a'"}], "mark": {"type": "point", "shape": "square", "size": 75, "filled": false, "color": "#222222", "strokeWidth": 1, "opacity": 1},
   "encoding": {"x": {"field": "v", "type": "quantitative", "axis": {"orient": "bottom", "title": "x/d", "titleFontStyle": "italic", "labels": false, "ticks": false, "domain": false, "titleX": 15, "titleY": 19, "titleAlign": "left", "titleBaseline": "alphabetic"}}}},
  {"transform": [{"filter": "datum.k=='b'"}], "mark": {"type": "point", "shape": "circle", "size": 40, "filled": true, "color": "#ff0000", "stroke": "#ff0000", "strokeWidth": 1, "opacity": 1},
   "encoding": {"x": {"field": "v", "type": "quantitative", "axis": {"orient": "bottom", "title": "=1.5", "labels": false, "ticks": false, "domain": false, "titleX": 35, "titleY": 19, "titleAlign": "left", "titleBaseline": "alphabetic"}}}},
  {"transform": [{"filter": "datum.k=='c'"}], "mark": {"type": "point", "shape": "triangle-up", "size": 40, "filled": true, "color": "#008000", "stroke": "#008000", "strokeWidth": 1, "opacity": 1}},
  {"transform": [{"filter": "datum.k=='d'"}], "mark": {"type": "point", "shape": "M0,-1L0.235,-0.324L0.951,-0.309L0.38,0.124L0.588,0.809L0,0.4L-0.588,0.809L-0.38,0.124L-0.951,-0.309L-0.235,-0.324Z", "size": 75, "filled": false, "color": "#5555ff", "strokeWidth": 1, "opacity": 1}}
 ],
 "resolve": {"axis": {"x": "independent"}}},
{"width": 79, "height": 312,
 "transform": [{"filter": "datum.p==7"}, {"fold": ["a","b","c","d"], "as": ["k","v"]}],
 "encoding": {"x": {"field": "v", "type": "quantitative", "axis": null}, "y": {"field": "r", "type": "quantitative", "axis": null}},
 "layer": [
  {"mark": {"type": "line", "strokeWidth": 1},
   "encoding": {
    "x": {"field": "v", "type": "quantitative", "scale": {"domain": [-0.05, 0.45], "nice": false, "zero": false}, "axis": {"orient": "top", "values": [0,0.15,0.3], "format": ".1f", "labelExpr": "datum.value==0||datum.value==0.3?datum.label:''", "title": null, "tickSize": -5, "labelPadding": 11, "domain": false}},
    "y": {"field": "r", "type": "quantitative", "scale": {"domain": [-4, 280], "nice": false, "zero": false}, "axis": null},
    "color": {"field": "k", "type": "nominal", "scale": {"range": ["#000000","#ff0000","#008000","#0000ff"]}, "legend": null},
    "order": {"field": "r", "type": "quantitative"}}},
  {"transform": [{"filter": "datum.k=='a'"}], "mark": {"type": "point", "shape": "square", "size": 75, "filled": false, "color": "#222222", "strokeWidth": 1, "opacity": 1},
   "encoding": {"x": {"field": "v", "type": "quantitative", "axis": {"orient": "bottom", "title": "x/d", "titleFontStyle": "italic", "labels": false, "ticks": false, "domain": false, "titleX": 15, "titleY": 19, "titleAlign": "left", "titleBaseline": "alphabetic"}}}},
  {"transform": [{"filter": "datum.k=='b'"}], "mark": {"type": "point", "shape": "circle", "size": 40, "filled": true, "color": "#ff0000", "stroke": "#ff0000", "strokeWidth": 1, "opacity": 1},
   "encoding": {"x": {"field": "v", "type": "quantitative", "axis": {"orient": "bottom", "title": "=2.5", "labels": false, "ticks": false, "domain": false, "titleX": 35, "titleY": 19, "titleAlign": "left", "titleBaseline": "alphabetic"}}}},
  {"transform": [{"filter": "datum.k=='c'"}], "mark": {"type": "point", "shape": "triangle-up", "size": 40, "filled": true, "color": "#008000", "stroke": "#008000", "strokeWidth": 1, "opacity": 1}},
  {"transform": [{"filter": "datum.k=='d'"}], "mark": {"type": "point", "shape": "M0,-1L0.235,-0.324L0.951,-0.309L0.38,0.124L0.588,0.809L0,0.4L-0.588,0.809L-0.38,0.124L-0.951,-0.309L-0.235,-0.324Z", "size": 75, "filled": false, "color": "#5555ff", "strokeWidth": 1, "opacity": 1}}
 ],
 "resolve": {"axis": {"x": "independent"}}}
],
"config": {
 "font": "Liberation Serif",
 "view": {"stroke": "black", "strokeWidth": 1.2},
 "axis": {"labelFont": "Liberation Serif", "labelFontSize": 16, "labelColor": "black", "titleFont": "Liberation Serif", "titleFontSize": 16, "titleFontWeight": "normal", "titleColor": "black", "tickColor": "black", "domainColor": "black", "grid": false, "labelFlush": false, "labelOverlap": false, "labelBound": false}
}
}
